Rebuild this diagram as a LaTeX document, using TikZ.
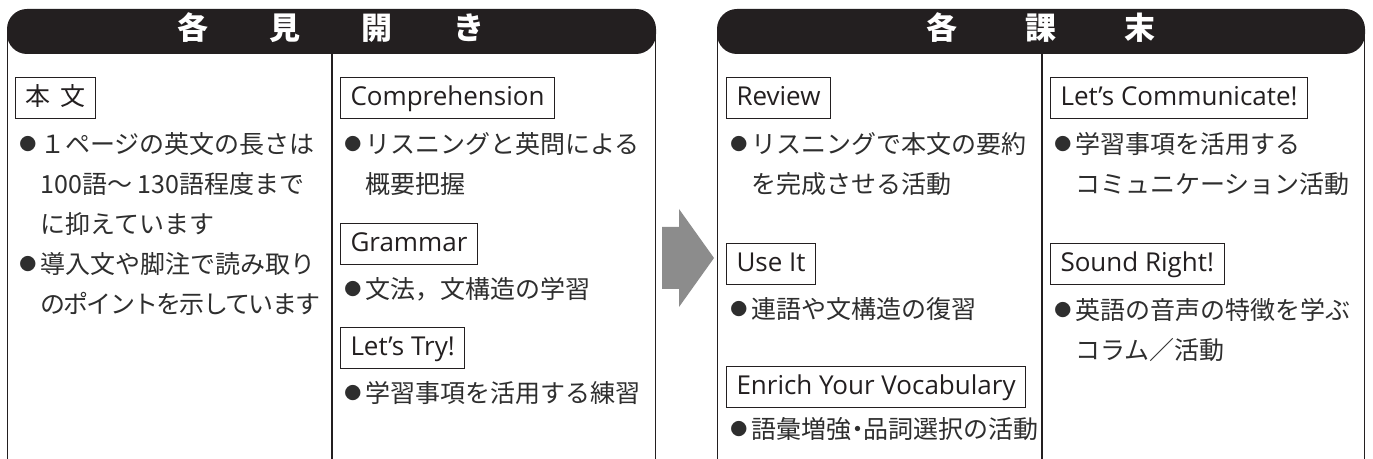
\documentclass[tikz,border=0pt]{standalone}
\usepackage{fontspec}
\setmainfont{Noto Sans CJK JP}
\newfontfamily\tagfont{Open Sans}
\newfontfamily\tightfont[LetterSpace=-7]{Noto Sans CJK JP}
\definecolor{ink}{HTML}{231F20}
\definecolor{arrowgray}{HTML}{8C8C8C}
% small round bullet, one em wide
\newcommand\dotmark{\makebox[1em]{\raisebox{1.4pt}{\fontsize{8.5pt}{8.5pt}\selectfont ●}}}
\tikzset{
  head/.style={fill=ink, rounded corners=10pt},
  headtext/.style={text=white, inner sep=0pt, font=\fontsize{15.5pt}{15.5pt}\selectfont\bfseries,
    text height=0.88em, text depth=0.12em},
  rule/.style={draw=ink, line width=0.8pt},
  tag/.style={draw=ink, line width=0.5pt, anchor=north west, text=ink, minimum height=20.5pt,
    inner xsep=5pt, inner ysep=0pt, font=\fontsize{13pt}{13pt}\selectfont\tagfont,
    text height=0.714em, text depth=0pt},
  txt/.style={anchor=west, inner sep=0pt, text=black!82, font=\fontsize{12.5pt}{12.5pt}\selectfont,
    text height=0.88em, text depth=0.12em}
}
\begin{document}
\begin{tikzpicture}[x=0.5pt, y=-0.5pt]
  \useasboundingbox (0,0) rectangle (1373,459);

  % panel lines first, the headers cover their tops
  \foreach \x in {7.5, 332, 655.5, 717.5, 1042, 1364.5}
    \draw[rule] (\x,30) -- (\x,459);

  % the two black headers
  \fill[head] (7,9) rectangle (656,54);
  \fill[head] (717,9) rectangle (1365,54);
  \foreach \c [count=\i] in {各,見,開,き}
    \node[headtext] (lhead\i) at (101+92*\i,32) {\c};
  \foreach \c [count=\i] in {各,課,末}
    \node[headtext] (rhead\i) at (843+99*\i,32) {\c};

  % gray arrow between the panels
  \fill[arrowgray] (662,227) -- (679,227) -- (679,209) -- (714,258)
    -- (679,307) -- (679,289) -- (662,289) -- cycle;

  % left panel, first column
  \node[tag, font=\fontsize{12.5pt}{12.5pt}\selectfont] (honbun) at (15,77) {本\hspace{5pt}文};
  \node[txt] (a1) at (15,146) {\dotmark１ページの英文の長さは};
  \node[txt] (a2) at (40,186) {100語～ 130語程度まで};
  \node[txt] (a3) at (40,226) {に抑えています};
  \node[txt] (a4) at (15,266) {\dotmark 導入文や脚注で読み取り};
  \node[txt] (a5) at (40,306) {\tightfont のポイントを示しています};

  % left panel, second column
  \node[tag] (compre) at (340,77) {Comprehension};
  \node[txt] (b1) at (340,146) {\dotmark リスニングと英問による};
  \node[txt] (b2) at (365,186) {概要把握};
  \node[tag] (grammar) at (340,223) {Grammar};
  \node[txt] (b3) at (340,291) {\dotmark 文法，文構造の学習};
  \node[tag] (letstry) at (340,327) {Let’s Try!};
  \node[txt] (b4) at (340,395) {\dotmark 学習事項を活用する練習};

  % right panel, first column
  \node[tag] (review) at (726,77) {Review};
  \node[txt] (c1) at (726,146) {\dotmark リスニングで本文の要約};
  \node[txt] (c2) at (751,186) {を完成させる活動};
  \node[tag] (useit) at (726,243) {Use It};
  \node[txt] (c3) at (726,311) {\dotmark 連語や文構造の復習};
  \node[tag] (enrich) at (726,366) {Enrich Your Vocabulary};
  \node[txt] (c4) at (726,431) {\dotmark 語彙増強\kern-.25em・\kern-.25em品詞選択の活動};

  % right panel, second column
  \node[tag] (letscom) at (1050,77) {Let’s Communicate!};
  \node[txt] (d1) at (1050,146) {\dotmark 学習事項を活用する};
  \node[txt] (d2) at (1075,186) {コミュニケーション活動};
  \node[tag] (sound) at (1050,243) {Sound Right!};
  \node[txt] (d3) at (1050,312) {\dotmark 英語の音声の特徴を学ぶ};
  \node[txt] (d4) at (1075,352) {コラム／活動};
\end{tikzpicture}
\end{document}
